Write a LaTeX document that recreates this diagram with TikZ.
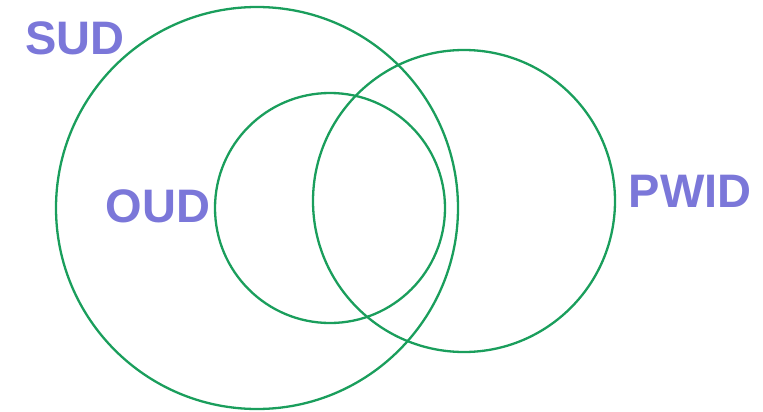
\documentclass[tikz,border=0pt]{standalone}
\usepackage{fontspec}
\setmainfont{Liberation Sans}
\usepackage{xcolor}
\usetikzlibrary{positioning}

\definecolor{setgreen}{HTML}{1A9E5C}
\definecolor{labelpurple}{HTML}{7B77D9}

\begin{document}
\begin{tikzpicture}[
    x=1pt, y=-1pt,
    set/.style={draw=setgreen, line width=2.3pt, circle, inner sep=0pt},
    setlabel/.style={text=labelpurple, font=\fontsize{47}{54}\selectfont\bfseries, anchor=base, inner sep=0pt}
]
\useasboundingbox (0,0) rectangle (763,412);

% Sets
\node[set, minimum size=402pt] (sud) at (257, 208) {};
\node[set, minimum size=230pt] (oud) at (330, 208) {};
\node[set, minimum size=302pt] (pwid) at (464, 201) {};

% Labels
\node[setlabel] (sudlabel) at (75, 55) {SUD};
\node[setlabel] (oudlabel) at (158, 222) {OUD};
\node[setlabel] (pwidlabel) at (690, 207) {PWID};

\end{tikzpicture}
\end{document}
